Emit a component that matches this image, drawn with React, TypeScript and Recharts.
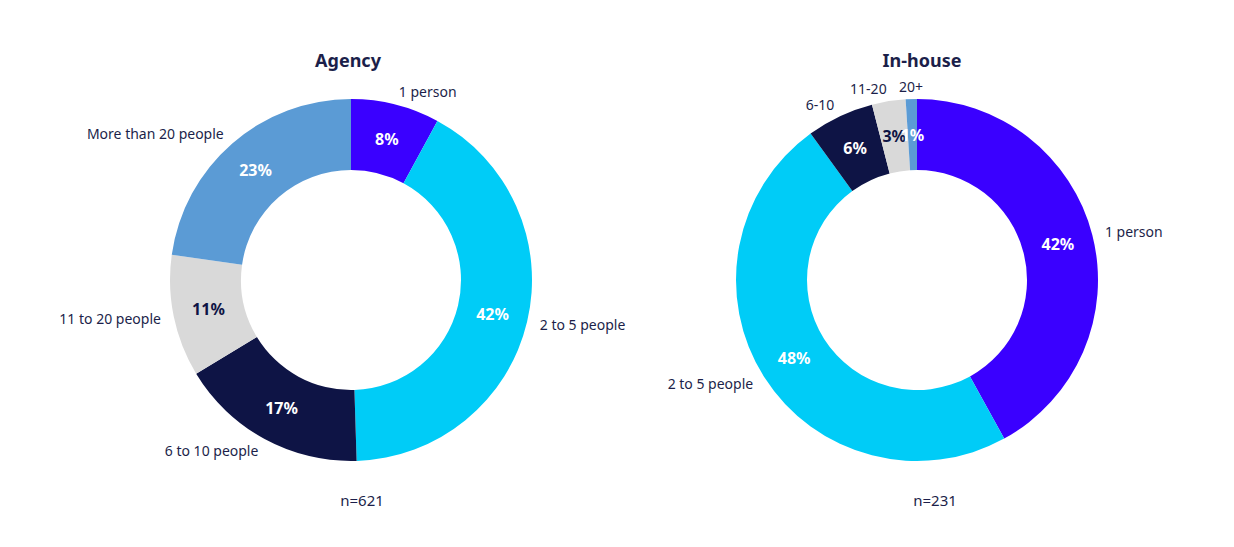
import { PieChart, Pie, Cell } from 'recharts';

const categories = ['1 person', '2 to 5 people', '6 to 10 people', '11 to 20 people', 'More than 20 people'];
const inHouseNames = ['1 person', '2 to 5 people', '6-10', '11-20', '20+'];
const agencyValues = [8, 42, 17, 11, 23];
const inHouseValues = [42, 48, 6, 3, 1];
const colors = ['#3a00ff', '#00ccf7', '#0e1445', '#d9d9d9', '#5b9bd5'];
const insideText = ['#ffffff', '#ffffff', '#ffffff', '#0e1445', '#ffffff'];

const agencyData = categories.map((c, i) => ({ name: c, value: agencyValues[i] }));
const inHouseData = inHouseNames.map((c, i) => ({ name: c, value: inHouseValues[i] }));

const RADIAN = Math.PI / 180;
const FONT = '"Noto Sans", sans-serif';
const INK = '#1c1f4a';

function makeLabel(data: { name: string; value: number }[]) {
  return (props: any) => {
    const { cx, cy, midAngle, innerRadius, outerRadius, index } = props;
    const sin = Math.sin(-midAngle * RADIAN);
    const cos = Math.cos(-midAngle * RADIAN);
    const rIn = (innerRadius + outerRadius) / 2;
    const rOut = outerRadius + 13;
    const xo = cx + rOut * cos;
    const yo = cy + rOut * sin;
    let anchor: 'start' | 'end' | 'middle' = cos >= 0 ? 'start' : 'end';
    if (Math.abs(cos) < 0.1) anchor = 'middle';
    return (
      <g>
        <text
          x={cx + rIn * cos}
          y={cy + rIn * sin}
          fill={insideText[index]}
          textAnchor="middle"
          dominantBaseline="central"
          style={{ fontFamily: FONT, fontSize: 16, fontWeight: 700 }}
        >
          {`${data[index].value}%`}
        </text>
        <text
          x={xo}
          y={yo}
          fill={INK}
          textAnchor={anchor}
          dominantBaseline="central"
          style={{ fontFamily: FONT, fontSize: 14 }}
        >
          {data[index].name}
        </text>
      </g>
    );
  };
}

const titleStyle = {
  position: 'absolute' as const,
  width: 200,
  textAlign: 'center' as const,
  fontFamily: FONT,
  color: INK,
};

export default function App() {
  return (
    <div style={{ position: 'absolute', left: 0, top: 0, width: 1234, height: 547, background: '#fff' }}>
      <PieChart width={1234} height={547} margin={{ top: 0, right: 0, bottom: 0, left: 0 }}>
        <Pie
          data={agencyData}
          dataKey="value"
          cx={351}
          cy={280}
          innerRadius={110}
          outerRadius={181}
          startAngle={90}
          endAngle={-270}
          stroke="none"
          labelLine={false}
          label={makeLabel(agencyData)}
          isAnimationActive={false}
        >
          {agencyData.map((d, i) => (
            <Cell key={d.name} fill={colors[i]} />
          ))}
        </Pie>
        <Pie
          data={inHouseData}
          dataKey="value"
          cx={917}
          cy={280}
          innerRadius={110}
          outerRadius={181}
          startAngle={90}
          endAngle={-270}
          stroke="none"
          labelLine={false}
          label={makeLabel(inHouseData)}
          isAnimationActive={false}
        >
          {inHouseData.map((d, i) => (
            <Cell key={d.name} fill={colors[i]} />
          ))}
        </Pie>
      </PieChart>
      <div style={{ ...titleStyle, left: 248, top: 48, fontSize: 18, fontWeight: 700 }}>Agency</div>
      <div style={{ ...titleStyle, left: 822, top: 48, fontSize: 18, fontWeight: 700 }}>In-house</div>
      <div style={{ ...titleStyle, left: 262, top: 490, fontSize: 15 }}>n=621</div>
      <div style={{ ...titleStyle, left: 835, top: 490, fontSize: 15 }}>n=231</div>
    </div>
  );
}
